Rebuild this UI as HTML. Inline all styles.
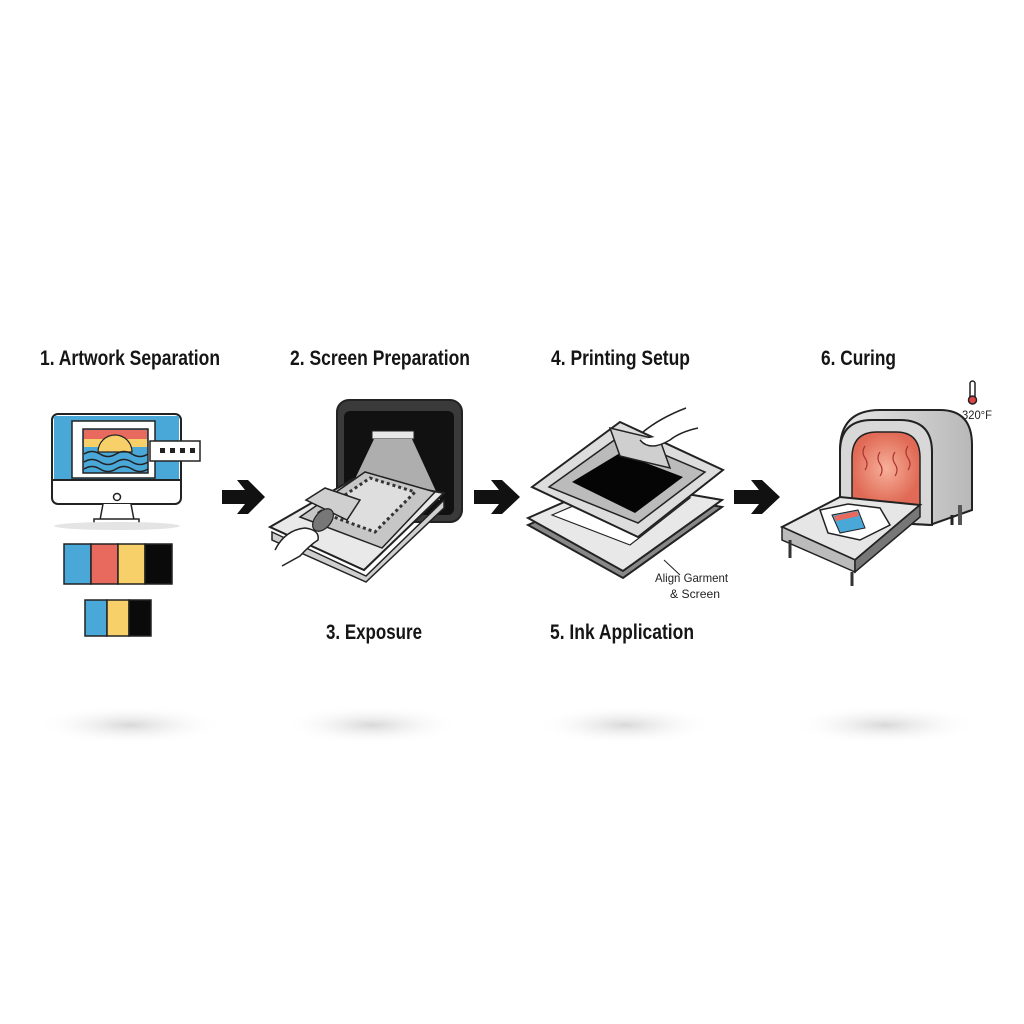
<!DOCTYPE html>
<html><head><meta charset="utf-8"><style>
html,body{margin:0;padding:0;background:#fff;}
svg{display:block;}
.t{font-family:"Liberation Sans Narrow","Liberation Sans",sans-serif;font-weight:bold;font-size:21px;fill:#151515;}
.s{font-family:"Liberation Sans Narrow","Liberation Sans",sans-serif;font-size:12px;fill:#222;}
</style></head><body>
<svg width="1024" height="1024" viewBox="0 0 1024 1024" xmlns="http://www.w3.org/2000/svg">
<defs>
<radialGradient id="sh"><stop offset="0" stop-color="#d8d8d8"/><stop offset="1" stop-color="#fff" stop-opacity="0"/></radialGradient>
<linearGradient id="metal" x1="0" x2="1"><stop offset="0" stop-color="#e8e8e8"/><stop offset="1" stop-color="#b8b8b8"/></linearGradient>
<radialGradient id="heat"><stop offset="0" stop-color="#f7b09a"/><stop offset="1" stop-color="#e06a55"/></radialGradient>
</defs>
<rect width="1024" height="1024" fill="#fff"/>
<ellipse cx="130" cy="725" rx="95" ry="20" fill="url(#sh)"/>
<ellipse cx="372" cy="725" rx="90" ry="20" fill="url(#sh)"/>
<ellipse cx="625" cy="725" rx="90" ry="20" fill="url(#sh)"/>
<ellipse cx="885" cy="725" rx="95" ry="20" fill="url(#sh)"/>

<text class="t" x="40" y="365" textLength="180" lengthAdjust="spacingAndGlyphs">1. Artwork Separation</text>
<text class="t" x="290" y="365" textLength="180" lengthAdjust="spacingAndGlyphs">2. Screen Preparation</text>
<text class="t" x="551" y="365" textLength="139" lengthAdjust="spacingAndGlyphs">4. Printing Setup</text>
<text class="t" x="821" y="365" textLength="75" lengthAdjust="spacingAndGlyphs">6. Curing</text>
<text class="t" x="326" y="639" textLength="96" lengthAdjust="spacingAndGlyphs">3. Exposure</text>
<text class="t" x="550" y="639" textLength="144" lengthAdjust="spacingAndGlyphs">5. Ink Application</text>
<text class="s" x="655" y="582" textLength="73" lengthAdjust="spacingAndGlyphs">Align Garment</text>
<text class="s" x="670" y="598" textLength="50" lengthAdjust="spacingAndGlyphs">&amp; Screen</text>
<text class="s" x="962" y="419" textLength="30" lengthAdjust="spacingAndGlyphs">320°F</text>
<path d="M945 423 L952 416 L960 416" stroke="#222" fill="none" stroke-width="1.2"/>
<rect x="970" y="381" width="5" height="18" rx="2.5" fill="#fff" stroke="#222" stroke-width="1.5"/>
<circle cx="972.5" cy="400" r="4" fill="#d44" stroke="#222" stroke-width="1.5"/>

<rect x="52" y="414" width="129" height="90" rx="6" fill="#fff" stroke="#222" stroke-width="2"/>
<path d="M54 416 H179 V480 H54 Z" fill="#4aa8d8"/>
<line x1="52" y1="480" x2="181" y2="480" stroke="#222" stroke-width="2"/>
<rect x="72" y="421" width="83" height="57" fill="#fff" stroke="#222" stroke-width="1.5"/>
<rect x="83" y="429" width="65" height="44" fill="#4aa8d8" stroke="#222" stroke-width="1.5"/>
<rect x="84" y="430" width="63" height="9" fill="#e86a5e"/>
<rect x="84" y="439" width="63" height="8" fill="#f7d06a"/>
<path d="M98 452 A17 17 0 0 1 132 452 Z" fill="#f7d06a" stroke="#222" stroke-width="1.2"/>
<path d="M84 454 q8 -5 16 0 t16 0 t16 0 t16 0 M84 462 q8 -5 16 0 t16 0 t16 0 t16 0 M84 469 q8 -5 16 0 t16 0 t16 0 t16 0" stroke="#222" fill="none" stroke-width="1.5"/>
<rect x="150" y="441" width="50" height="20" fill="#fff" stroke="#222" stroke-width="1.5"/>
<rect x="160" y="448" width="5" height="5" fill="#222"/><rect x="170" y="448" width="5" height="5" fill="#222"/><rect x="180" y="448" width="5" height="5" fill="#222"/><rect x="190" y="448" width="5" height="5" fill="#222"/>
<circle cx="117" cy="497" r="3.5" fill="none" stroke="#222" stroke-width="1.5"/>
<path d="M103 504 L100 520 H134 L131 504" fill="#fff" stroke="#222" stroke-width="1.5"/>
<rect x="94" y="519" width="45" height="5" fill="#fff" stroke="#222" stroke-width="1.5"/>
<ellipse cx="117" cy="526" rx="63" ry="4" fill="#e4e4e4"/>
<g stroke="#222" stroke-width="1.5">
<rect x="64" y="544" width="27" height="40" fill="#4aa8d8"/>
<rect x="91" y="544" width="27" height="40" fill="#e86a5e"/>
<rect x="118" y="544" width="27" height="40" fill="#f7d06a"/>
<rect x="145" y="544" width="27" height="40" fill="#0a0a0a"/>
<rect x="85" y="600" width="22" height="36" fill="#4aa8d8"/>
<rect x="107" y="600" width="22" height="36" fill="#f7d06a"/>
<rect x="129" y="600" width="22" height="36" fill="#0a0a0a"/>
</g>

<g fill="#111">
<path d="M222 490 H245 L237 480 H248 L265 497 L248 514 H237 L245 504 H222 Z"/>
<path d="M474 490 H499 L491 480 H502 L520 497 L502 514 H491 L499 504 H474 Z"/>
<path d="M734 490 H759 L751 480 H762 L780 497 L762 514 H751 L759 504 H734 Z"/>
</g>

<rect x="337" y="400" width="125" height="122" rx="12" fill="#3a3a3a" stroke="#222" stroke-width="2"/>
<rect x="344" y="411" width="110" height="104" rx="6" fill="#111"/>
<rect x="372" y="431" width="42" height="8" fill="#e8e8e8" stroke="#222" stroke-width="1"/>
<path d="M374 439 L412 439 L440 500 L345 500 Z" fill="#d6d6d6" opacity="0.8"/>
<path d="M270 527 L355 478 L444 493 L364 570 Z" fill="#e9e9e9" stroke="#222" stroke-width="2"/>
<path d="M272 532 L366 576 L444 500 L444 508 L366 582 L272 540 Z" fill="#cfcfcf" stroke="#222" stroke-width="1.5"/>
<path d="M300 517 L365 472 L435 492 L382 548 Z" fill="#c6c6c6" stroke="#222" stroke-width="1.5"/>
<path d="M320 512 L370 478 L415 492 L375 532 Z" fill="#dedede" stroke="#333" stroke-width="3" stroke-dasharray="3 3"/>
<path d="M306 500 L325 488 L360 500 L347 520 Z" fill="#cfcfcf" stroke="#222" stroke-width="1.5"/>
<ellipse cx="323" cy="520" rx="8" ry="13" transform="rotate(40 323 520)" fill="#777" stroke="#222" stroke-width="1.2"/>
<path d="M275 550 Q285 530 305 528 Q320 530 318 540 Q310 545 300 556 L282 566" fill="#fff" stroke="#222" stroke-width="1.5"/>

<path d="M528 525 L612 488 L722 507 L623 578 Z" fill="#888" stroke="#222" stroke-width="2"/>
<path d="M528 518 L612 481 L722 500 L623 571 Z" fill="#e8e8e8" stroke="#222" stroke-width="2"/>
<path d="M552 515 L620 486 L690 498 L630 545 Z" fill="#fff" stroke="#222" stroke-width="1.2"/>
<path d="M532 487 L620 422 L723 470 L638 537 Z" fill="#ddd" stroke="#222" stroke-width="2"/>
<path d="M549 487 L620 436 L705 472 L638 523 Z" fill="#bbb" stroke="#222" stroke-width="1.5"/>
<path d="M572 482 L620 453 L683 477 L635 513 Z" fill="#050505"/>
<path d="M610 428 L660 440 L670 468 L620 456 Z" fill="#cfcfcf" stroke="#222" stroke-width="1.5"/>
<path d="M643 432 Q660 418 686 408 M640 440 Q650 452 670 440 Q680 432 698 428" fill="#fff" stroke="#222" stroke-width="1.5"/>
<line x1="664" y1="560" x2="680" y2="575" stroke="#222" stroke-width="1"/>

<path d="M840 520 L840 450 Q840 410 880 410 L940 410 Q972 410 972 445 L972 510 L930 525 Z" fill="url(#metal)" stroke="#222" stroke-width="2"/>
<path d="M840 520 L840 452 Q840 420 872 420 L900 420 Q932 420 932 452 L932 525 Z" fill="#d8d8d8" stroke="#222" stroke-width="2"/>
<path d="M852 505 L852 458 Q852 432 877 432 L896 432 Q920 432 920 458 L920 505 Z" fill="url(#heat)" stroke="#222" stroke-width="1.5"/>
<path d="M865 470 q4 -6 0 -12 q-4 -6 0 -12 M880 476 q4 -6 0 -12 q-4 -6 0 -12 M895 476 q4 -6 0 -12 q-4 -6 0 -12 M908 470 q4 -6 0 -12 q-4 -6 0 -12" fill="none" stroke="#a33" stroke-width="1.2"/>
<line x1="952" y1="515" x2="952" y2="525" stroke="#222" stroke-width="3"/>
<line x1="960" y1="505" x2="960" y2="525" stroke="#555" stroke-width="4"/>
<path d="M782 527 L840 497 L920 505 L855 560 Z" fill="#e6e6e6" stroke="#222" stroke-width="2"/>
<path d="M782 527 L855 560 L855 572 L782 540 Z" fill="#bbb" stroke="#222" stroke-width="1.5"/>
<path d="M855 560 L920 505 L920 517 L855 572 Z" fill="#777" stroke="#222" stroke-width="1.5"/>
<line x1="790" y1="540" x2="790" y2="558" stroke="#333" stroke-width="3"/>
<line x1="852" y1="572" x2="852" y2="586" stroke="#333" stroke-width="3"/>
<path d="M820 510 L848 504 L880 508 L890 525 L860 540 L828 533 Z" fill="#fff" stroke="#222" stroke-width="1.5"/>
<path d="M832 515 L858 510 L865 528 L840 533 Z" fill="#4aa8d8" stroke="#222" stroke-width="1"/>
<path d="M834 516 L857 511 L859 516 L836 521 Z" fill="#e86a5e"/>
</svg>
</body></html>
